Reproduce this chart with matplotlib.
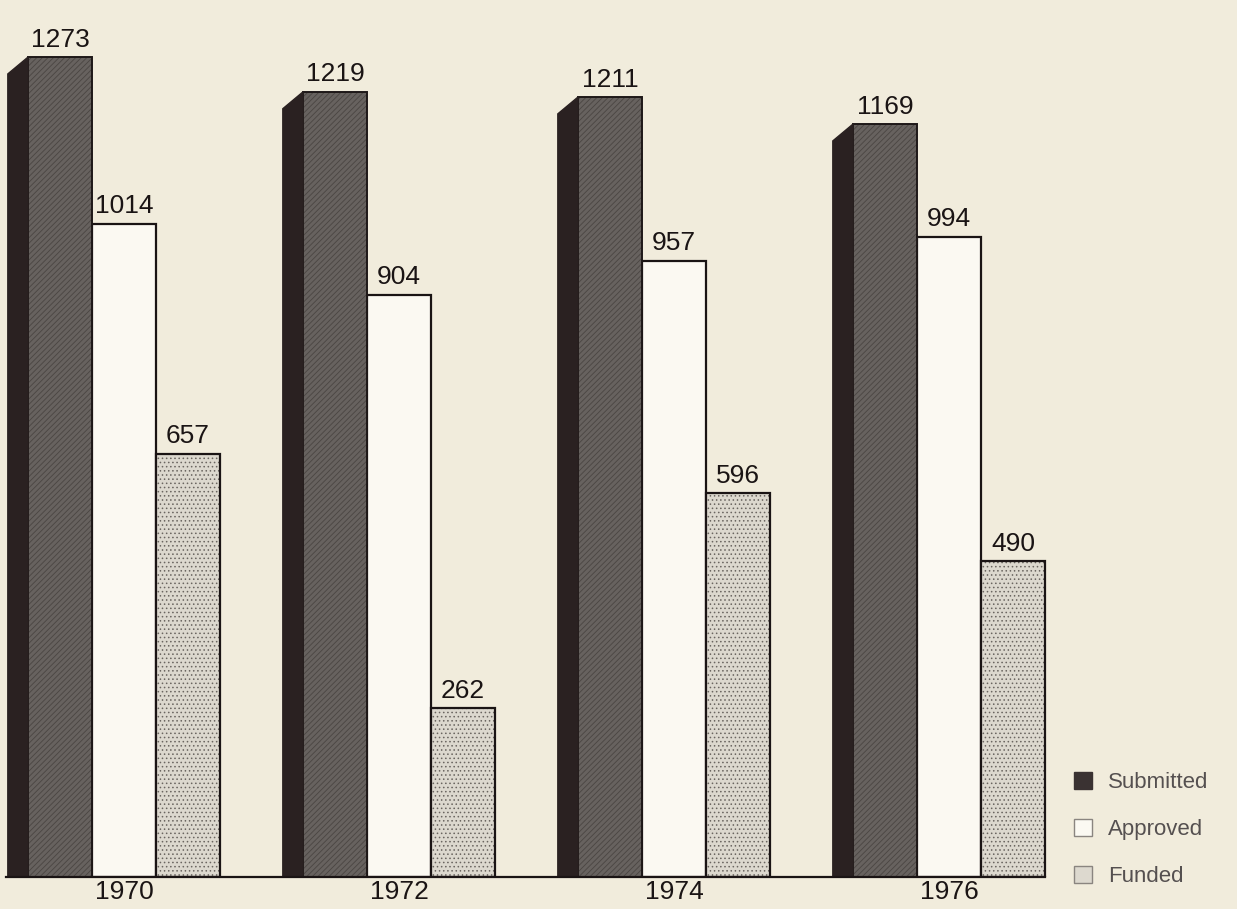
import numpy as np
import matplotlib
matplotlib.use("Agg")
import matplotlib.pyplot as plt
from matplotlib.patches import Polygon, Patch

years = ["1970", "1972", "1974", "1976"]
submitted = [1273, 1219, 1211, 1169]
approved = [1014, 904, 957, 994]
funded = [657, 262, 596, 490]
series_names = ["Submitted", "Approved", "Funded"]

plt.rcParams['font.family'] = ['Liberation Sans', 'DejaVu Sans']
plt.rcParams['hatch.linewidth'] = 0.6

BG = "#f1ecdc"
fig = plt.figure(figsize=(12.37, 9.09), dpi=100, facecolor=BG)
ax = fig.add_axes([0, 32 / 909, 1, 1 - 32 / 909])
ax.set_facecolor(BG)

x = np.arange(len(years))
w = 0.233
side = 0.073
sdy = 26

sub_face = "#67625f"
side_face = "#2a2121"
app_face = "#fbf9f2"
fun_face = "#dcd8ce"
ink = "#1a1414"

# submitted: hatched fill (lighter hatch) + dark outline
ax.bar(x - w, submitted, w, color=sub_face, edgecolor="#4a4542",
       linewidth=0, hatch="//////", zorder=3)
ax.bar(x - w, submitted, w, fill=False, edgecolor="#1e1818",
       linewidth=1.4, zorder=3)
ax.bar(x, approved, w, color=app_face, edgecolor=ink,
       linewidth=1.6, zorder=2)
ax.bar(x + w, funded, w, color=fun_face, edgecolor="#6a6560",
       linewidth=0, hatch="....", zorder=2)
ax.bar(x + w, funded, w, fill=False, edgecolor=ink,
       linewidth=1.6, zorder=2)

# 3D side faces of the submitted bars
for xi, v in zip(x - w, submitted):
    left = xi - w / 2
    poly = Polygon([(left - side, 0), (left - side, v - sdy), (left, v), (left, 0)],
                   closed=True, facecolor=side_face, edgecolor=side_face,
                   linewidth=1, zorder=3)
    ax.add_patch(poly)

txt_kw = dict(ha="center", va="bottom", fontsize=19, color=ink,
              textcoords="offset points", xytext=(0, 4))
for xs, vals in ((x - w, submitted), (x, approved), (x + w, funded)):
    for xi, v in zip(xs, vals):
        ax.annotate(str(v), (xi, v), **txt_kw)

ax.set_xlim(-124 / 275, (1237 - 124) / 275)
ax.set_ylim(0, 877 / 0.644)
ax.set_xticks(x)
ax.set_xticklabels(years, fontsize=19, color=ink)
ax.tick_params(axis="x", length=0, pad=2)
ax.set_yticks([])
for s in ("top", "left", "right"):
    ax.spines[s].set_visible(False)
ax.spines["bottom"].set_bounds(x[0] - 1.5 * w - side - 0.005, x[-1] + 1.5 * w)
ax.spines["bottom"].set_linewidth(1.6)
ax.spines["bottom"].set_color(ink)
ax.spines["bottom"].set_zorder(4)

handles = [
    Patch(facecolor="#3a3232", edgecolor="#3a3232", label=series_names[0]),
    Patch(facecolor=app_face, edgecolor="#8a8580", label=series_names[1]),
    Patch(facecolor="#ddd9cf", edgecolor="#8a8580", label=series_names[2]),
]
leg = ax.legend(handles=handles, loc="lower left",
                bbox_to_anchor=(1054 / 1237, -0.034), frameon=False,
                fontsize=16, handlelength=0.8, handleheight=0.8,
                handletextpad=0.75, labelspacing=1.15, labelcolor="#555050")

fig.savefig("out.png", dpi=100, facecolor=BG)
